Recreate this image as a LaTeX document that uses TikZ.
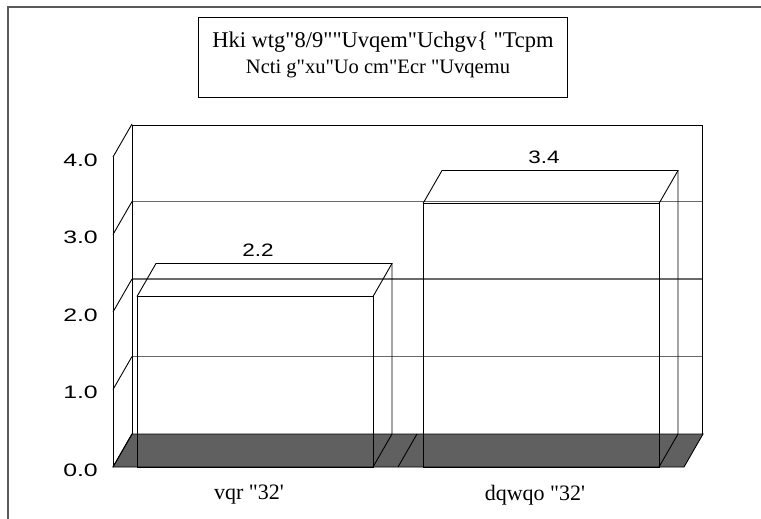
\documentclass[tikz,border=0pt]{standalone}
\usepackage{fontspec}
\newfontfamily\chartserif{Liberation Serif}
\newfontfamily\chartsans{Liberation Sans}
\usepackage{xcolor}
\usetikzlibrary{calc,positioning}
\definecolor{floorgray}{HTML}{606060}
\definecolor{gridgray}{HTML}{6A6A6A}
\definecolor{framegray}{HTML}{5A5A5A}

\begin{document}
\begin{tikzpicture}[x=1pt,y=-1pt,
  wire/.style={black,line width=0.9pt},
  gridline/.style={gridgray,line width=1.1pt},
  sanslabel/.style={inner sep=0pt,font=\chartsans\fontsize{18}{18}\selectfont},
  seriflabel/.style={inner sep=0pt,font=\chartserif\fontsize{22}{22}\selectfont}]
\useasboundingbox (0,0) rectangle (761,519);

% outer frame and title
\draw[framegray,line width=1.6pt] (8,519) -- (8,7) -- (761,7);
\draw[wire] (198,17) rectangle (567,97);
\node[inner sep=0pt,anchor=base,font=\chartserif\fontsize{22.5}{22.5}\selectfont] (title) at (383,48) {Hki wtg"8/9""Uvqem"Uchgv\{ "Tcpm};
\node[inner sep=0pt,anchor=base,font=\chartserif\fontsize{20.5}{20.5}\selectfont] (subtitle) at (378,74) {Ncti g"xu"Uo cm"Ecr "Uvqemu};

% floor
\draw[wire,fill=floorgray] (113,467) -- (684,467) -- (703,434) -- (132,434) -- cycle;

% gridlines and left wall
\foreach \v in {1,2,3} {
  \pgfmathsetmacro\yb{434-77.5*\v}
  \draw[gridline] (132,\yb) -- (702,\yb);
}
\draw[wire] (113,467) -- (113,157);
\draw[wire] (132,434) -- (132,125) -- (702,125) -- (702,434);
\foreach \v in {0,...,4} {
  \pgfmathsetmacro\yb{434-77.5*\v}
  \pgfmathsetmacro\yf{467-77.5*\v}
  \draw[wire] (113,\yf) -- (132,\yb);
  \node[sanslabel,anchor=east] (tick\v) at (98,\yf+3) {\scalebox{1.38}[1]{\v.0}};
}
\draw[wire] (398,467) -- (417,434);

% bars
\foreach \xl/\xr/\val/\nm/\cat in {137/373/2.2/top/{vqr "32'},423/659/3.4/bottom/{dqwqo "32'}} {
  \pgfmathsetmacro\ytop{467-77.5*\val}
  \draw[wire] (\xl,467) rectangle (\xr,\ytop);
  \draw[wire] (\xl,\ytop) -- ++(19,-33) -- ($(\xr,\ytop)+(19,-33)$) -- (\xr,\ytop);
  \draw[wire] ($(\xr,\ytop)+(19,-33)$) -- (\xr+19,434) -- (\xr,467);
  \node[sanslabel] (val\nm) at ({(\xl+\xr)/2+3},\ytop-46) {\scalebox{1.25}[1]{\val}};
  \node[seriflabel] (cat\nm) at ({(\xl+\xr)/2-6},495) {\cat};
}
\end{tikzpicture}
\end{document}
